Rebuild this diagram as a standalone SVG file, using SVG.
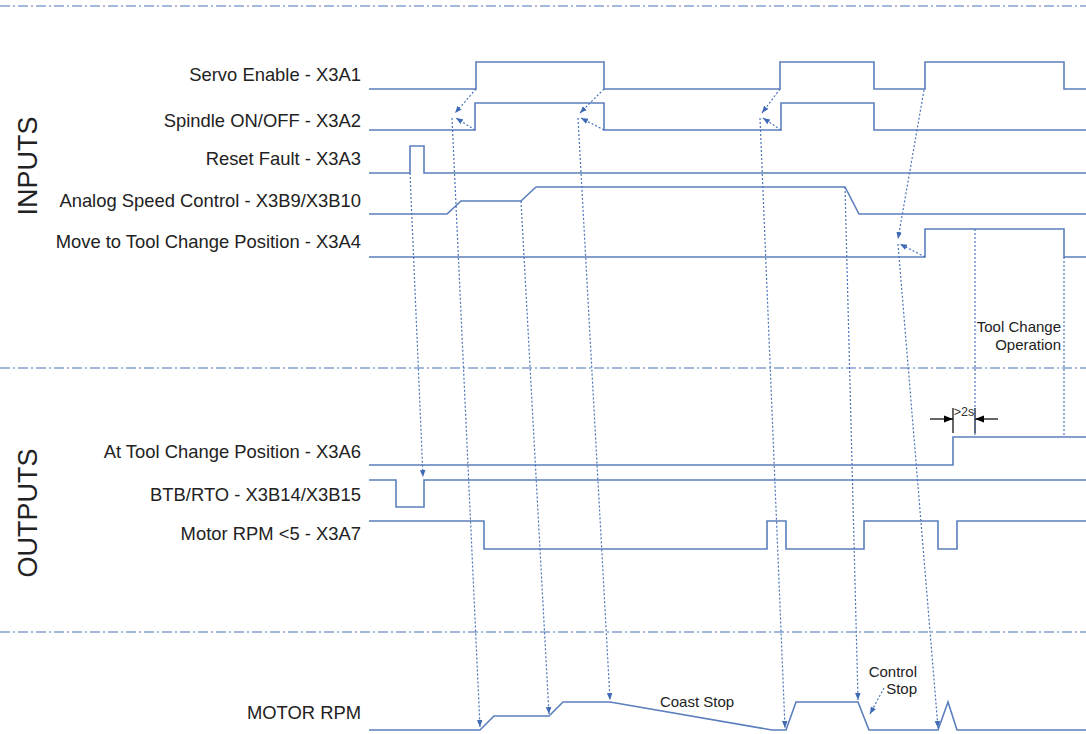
<svg xmlns="http://www.w3.org/2000/svg" width="1086" height="734" viewBox="0 0 1086 734">
<defs>
<style>
.sig{fill:none;stroke:#5b7fbd;stroke-width:1.6;stroke-linejoin:miter}
.dsh{fill:none;stroke:#4a74b8;stroke-width:1.2;stroke-dasharray:2 2}
.dshm{fill:none;stroke:#4a74b8;stroke-width:1.2;stroke-dasharray:2 2;marker-end:url(#ah)}
.sep{fill:none;stroke:#4a72b8;stroke-width:1.2;stroke-dasharray:10 3 2 3}
.lbl{font-family:"Liberation Sans",Arial,sans-serif;font-size:18.4px;fill:#222;text-anchor:end}
.ann{font-family:"Liberation Sans",Arial,sans-serif;font-size:15px;fill:#222}
.sec{font-family:"Liberation Sans",Arial,sans-serif;font-size:27px;fill:#222;text-anchor:middle}
.dim{fill:none;stroke:#000;stroke-width:1.2}
</style>
<marker id="ah" viewBox="0 0 10 10" refX="10" refY="5" markerWidth="7" markerHeight="7" markerUnits="userSpaceOnUse" orient="auto">
<path d="M0,1 L10,5 L0,9 z" fill="#3f6bb5"/>
</marker>
<marker id="bh" viewBox="0 0 10 10" refX="10" refY="5" markerWidth="10" markerHeight="9" markerUnits="userSpaceOnUse" orient="auto">
<path d="M0,1 L10,5 L0,9 z" fill="#000"/>
</marker>
</defs>

<g id="separators">
<line class="sep" x1="0" y1="6" x2="1086" y2="6"/>
<line class="sep" x1="0" y1="368" x2="1086" y2="368"/>
<line class="sep" x1="0" y1="632" x2="1086" y2="632"/>
</g>

<g id="section-labels">
<text class="sec" transform="translate(37,166) rotate(-90)">INPUTS</text>
<text class="sec" transform="translate(37,513) rotate(-90)">OUTPUTS</text>
</g>

<g id="servo-enable">
<text class="lbl" x="361" y="81">Servo Enable - X3A1</text>
<path class="sig" d="M369,89 H476 V62 H604 V89 H780 V62 H874 V89 H925 V62 H1064 V89 H1086"/>
</g>
<g id="spindle-on-off">
<text class="lbl" x="361" y="127">Spindle ON/OFF - X3A2</text>
<path class="sig" d="M369,130 H475 V103 H604 V130 H781 V103 H874 V130 H1086"/>
</g>
<g id="reset-fault">
<text class="lbl" x="361" y="165">Reset Fault - X3A3</text>
<path class="sig" d="M369,173 H410 V146 H424 V173 H1086"/>
</g>
<g id="analog-speed">
<text class="lbl" x="361" y="207">Analog Speed Control - X3B9/X3B10</text>
<path class="sig" d="M369,214 H447 L461,201 H521 L536,187 H845 L859,214 H1086"/>
</g>
<g id="move-tool-change">
<text class="lbl" x="361" y="248">Move to Tool Change Position - X3A4</text>
<path class="sig" d="M369,257 H925 V229 H1064 V257 H1086"/>
</g>
<g id="tool-change-operation">
<text class="ann" x="1061" y="332" text-anchor="end">Tool Change</text>
<text class="ann" x="1061" y="350" text-anchor="end">Operation</text>
</g>
<g id="at-tool-change">
<text class="lbl" x="361" y="458">At Tool Change Position - X3A6</text>
<path class="sig" d="M369,465 H953 V437 H1086"/>
</g>
<g id="btb-rto">
<text class="lbl" x="361" y="501">BTB/RTO - X3B14/X3B15</text>
<path class="sig" d="M369,480 H396 V507 H424 V480 H1086"/>
</g>
<g id="motor-rpm-lt5">
<text class="lbl" x="361" y="540">Motor RPM &lt;5 - X3A7</text>
<path class="sig" d="M369,521 H484 V549 H767 V521 H786 V549 H864 V521 H938 V549 H957 V521 H1086"/>
</g>
<g id="motor-rpm">
<text class="lbl" x="361" y="719">MOTOR RPM</text>
<path class="sig" d="M369,730 H480 L494,716 H549 L563,702 H610 L772,730 H786 L796,702 H858 L869,730 H938 L948,702 L957,730 H1086"/>
<text class="ann" x="697" y="707" text-anchor="middle">Coast Stop</text>
<text class="ann" x="917" y="677" text-anchor="end">Control</text>
<text class="ann" x="917" y="694" text-anchor="end">Stop</text>
</g>
<g id="dim-2s">
<line class="dim" x1="953" y1="408" x2="953" y2="433"/>
<line class="dim" x1="975" y1="408" x2="975" y2="433"/>
<line class="dim" x1="930" y1="419" x2="953" y2="419" marker-end="url(#bh)"/>
<line class="dim" x1="998" y1="419" x2="975" y2="419" marker-end="url(#bh)"/>
<text x="964" y="416" text-anchor="middle" font-family="Liberation Sans, Arial, sans-serif" font-size="12.5" fill="#333">&gt;2s</text>
</g>

<g id="connectors">
<path class="dshm" d="M476,89 L455,113"/>
<path class="dshm" d="M475,130 L456,118"/>
<path class="dshm" d="M452,118 L480,727"/>
<path class="dshm" d="M410,173 L423,477"/>
<path class="dshm" d="M521,201 L549,714"/>
<path class="dshm" d="M604,89 L580,113"/>
<path class="dshm" d="M604,130 L581,118"/>
<path class="dshm" d="M578,118 L610,700"/>
<path class="dshm" d="M780,89 L762,113"/>
<path class="dshm" d="M781,130 L763,118"/>
<path class="dshm" d="M760,118 L785,728"/>
<path class="dshm" d="M845,187 L858,700"/>
<path class="dshm" d="M924,90 L898,239"/>
<path class="dshm" d="M925,257 L900,244"/>
<path class="dshm" d="M898,244 L938,728"/>
<path class="dsh" d="M975,229 V437"/>
<path class="dsh" d="M1064,257 V437"/>
<path class="dshm" d="M884,688 L870,714"/>
</g>
</svg>
